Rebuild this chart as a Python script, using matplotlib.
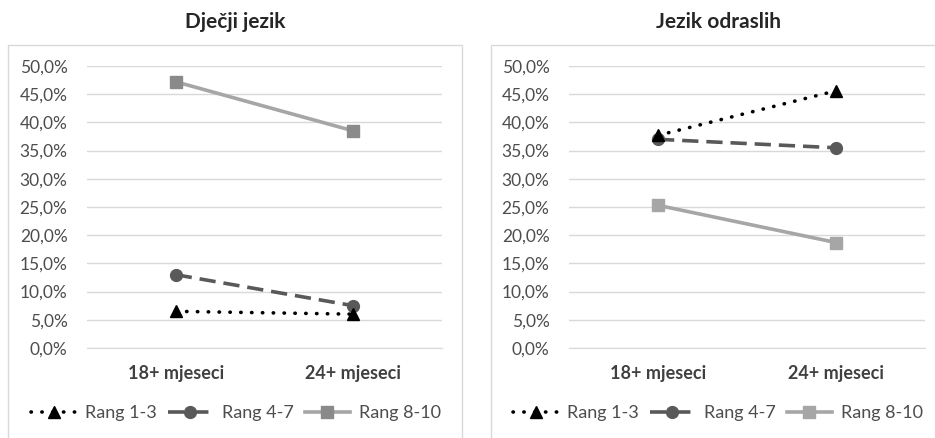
import matplotlib
matplotlib.use("Agg")
import matplotlib.pyplot as plt
from matplotlib.patches import Rectangle
from matplotlib.ticker import FuncFormatter

plt.rcParams['font.family'] = ['Lato', 'DejaVu Sans']

categories = ["18+ mjeseci", "24+ mjeseci"]
series_names = ["Rang 1-3", "Rang 4-7", "Rang 8-10"]
titles = ["Dječji jezik", "Jezik odraslih"]

djecji_rang_1_3 = [6.5, 6.0]
djecji_rang_4_7 = [13.0, 7.5]
djecji_rang_8_10 = [47.2, 38.5]

odrasli_rang_1_3 = [37.7, 45.6]
odrasli_rang_4_7 = [37.0, 35.5]
odrasli_rang_8_10 = [25.3, 18.7]

yticks = [0, 5, 10, 15, 20, 25, 30, 35, 40, 45, 50]

W, H = 935, 438
fig = plt.figure(figsize=(W / 100, H / 100), dpi=100)
fig.patch.set_facecolor('white')

def box(x0, y0, x1, y1):
    fig.add_artist(Rectangle((x0 / W, 1 - y1 / H), (x1 - x0) / W, (y1 - y0) / H,
                             transform=fig.transFigure, fill=False,
                             edgecolor='#d9d9d9', linewidth=1.0))

box(8, 45, 462, 446)
box(491, 45, 940, 446)

panels = [
    (87, 442, titles[0], [djecji_rang_1_3, djecji_rang_4_7, djecji_rang_8_10], '#8a8a8a', 236, 235),
    (569, 925, titles[1], [odrasli_rang_1_3, odrasli_rang_4_7, odrasli_rang_8_10], '#a6a6a6', 718, 718),
]

y_top, y_bot = 66, 348
for (x0, x1, title, data, sq_color, leg_cx, title_cx) in panels:
    ax = fig.add_axes([x0 / W, 1 - y_bot / H, (x1 - x0) / W, (y_bot - y_top) / H])
    ax.set_facecolor('none')
    xs = list(range(len(categories)))
    s1, s2, s3 = data
    ax.plot(xs, s3, color='#a6a6a6', linewidth=2.6, linestyle='-',
            marker='s', markersize=8.5, markerfacecolor=sq_color,
            markeredgecolor=sq_color, label=series_names[2], zorder=3)
    ax.plot(xs, s2, color='#595959', linewidth=2.6, linestyle=(0, (4.5, 2.2)),
            marker='o', markersize=8.5, markerfacecolor='#595959',
            markeredgecolor='#595959', label=series_names[1], zorder=4)
    ax.plot(xs, s1, color='black', linewidth=2.6, linestyle=(0, (0.1, 2.9)),
            dash_capstyle='round', marker='^', markersize=9,
            markerfacecolor='black', markeredgecolor='black',
            label=series_names[0], zorder=5)

    ax.set_xlim(-0.5, 1.5)
    ax.set_ylim(0, 50)
    ax.set_yticks(yticks)
    ax.yaxis.set_major_formatter(FuncFormatter(lambda v, p: f"{v:.1f}%".replace('.', ',')))
    ax.set_xticks(xs)
    ax.set_xticklabels(categories, fontweight='bold', fontsize=13, color='#404040')
    ax.tick_params(axis='y', length=0, pad=14, labelsize=12.5, labelcolor='#4d4d4d')
    ax.tick_params(axis='x', length=0, pad=12)
    ax.grid(axis='y', color='#d9d9d9', linewidth=1.0)
    ax.set_axisbelow(True)
    for sp in ax.spines.values():
        sp.set_visible(False)
    ax.spines['bottom'].set_visible(True)
    ax.spines['bottom'].set_color('#d9d9d9')

    fig.text(title_cx / W, 1 - 22 / H, title, ha='center', va='center',
             fontsize=15, fontweight='bold', color='#262626')

    handles, labels = ax.get_legend_handles_labels()
    order = [2, 1, 0]
    fig.legend([handles[i] for i in order], [labels[i] for i in order],
               loc='center', bbox_to_anchor=(leg_cx / W, 1 - 413 / H),
               ncol=3, frameon=False, fontsize=13, handlelength=2.5,
               columnspacing=0.6, handletextpad=0.5, labelcolor='#4d4d4d')

fig.savefig('out.png', dpi=100, facecolor='white')
